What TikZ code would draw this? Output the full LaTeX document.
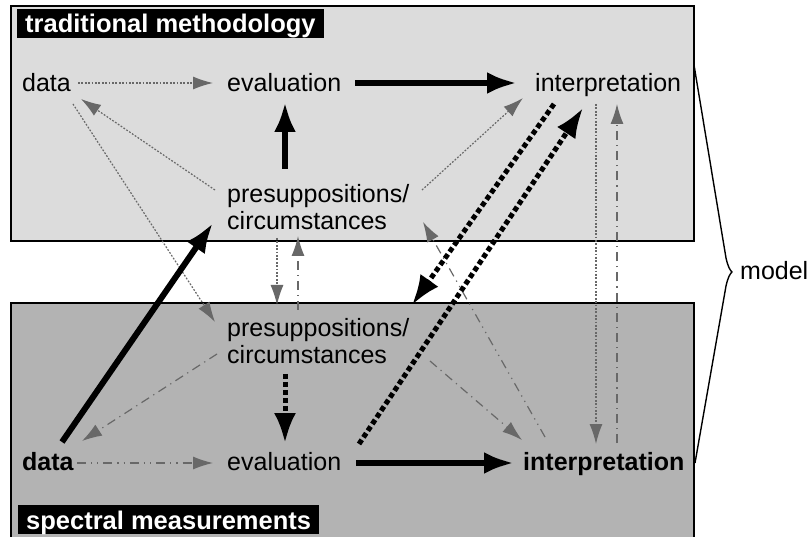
\documentclass[tikz,border=0pt]{standalone}
\usepackage{fontspec}
\setmainfont{Liberation Sans}
\usetikzlibrary{arrows.meta}
\definecolor{topfill}{HTML}{DCDCDC}
\definecolor{botfill}{HTML}{B3B3B3}
\definecolor{arrgray}{HTML}{686868}
\tikzset{
  lbl/.style={inner sep=0pt, anchor=base west},
  plbl/.style={inner sep=0pt, anchor=north west, align=left},
  ttl/.style={fill=black, text=white, font=\fontsize{25.5}{27}\selectfont\bfseries,
    inner xsep=8pt, inner ysep=1pt, text height=23pt, text depth=4pt, anchor=base west},
  grayline/.style={draw=arrgray, line width=1.2pt, -{Latex[length=20pt,width=13pt]}},
  gdot/.style={grayline, dash pattern=on 1.8pt off 1.6pt},
  gdd/.style={grayline, dash pattern=on 9pt off 5pt on 1.2pt off 5pt},
  gddd/.style={grayline, dash pattern=on 9pt off 5pt on 1.2pt off 5pt on 1.2pt off 5pt},
  thk/.style={line width=6pt, -{Latex[length=30pt,width=22pt]}},
  thkdot/.style={line width=5pt, dash pattern=on 5pt off 3pt, -{Latex[length=30pt,width=22pt]}},
  boxframe/.style={line width=2pt},
}
\begin{document}
\begin{tikzpicture}[x=1pt, y=-1pt, font=\fontsize{25}{27}\selectfont]
\useasboundingbox (0,0) rectangle (809,537);
\clip (0,0) rectangle (809,537);
% boxes
\filldraw[boxframe, fill=topfill] (11,6) rectangle (694,241);
\filldraw[boxframe, fill=botfill] (11,303) rectangle (694,560);
% titles
\node[ttl] (ttop) at (17,33) {traditional methodology};
\node[ttl] (tbot) at (18,529) {spectral measurements};
% labels
\node[lbl] (tdata) at (22,92) {data};
\node[lbl] (teval) at (227,92) {evaluation};
\node[lbl] (tinterp) at (535,92) {interpretation};
\node[plbl] (tpre) at (227,184) {presuppositions/\\circumstances};
\node[plbl] (bpre) at (227,318) {presuppositions/\\circumstances};
\node[lbl, font=\fontsize{25}{27}\selectfont\bfseries] (bdata) at (22,470) {data};
\node[lbl] (beval) at (227,470) {evaluation};
\node[lbl, font=\fontsize{25}{27}\selectfont\bfseries] (binterp) at (523,470) {interpretation};
\node[lbl] (model) at (740,280) {model};
% gray connectors
\draw[gdot] ([shift={(56,-9)}]tdata.base west) -- ([shift={(-14,-9)}]teval.base west);
\draw[gdot] ([shift={(-12,6)}]tpre.north west) -- ([shift={(59,7)}]tdata.base west);
\draw[gdot] ([shift={(51,12)}]tdata.base west) -- ([shift={(-12,4)}]bpre.north west);
\draw[gdot] ([shift={(195,6)}]tpre.north west) -- ([shift={(-12,6)}]tinterp.base west);
\draw[gdot] ([shift={(50,54)}]tpre.north west) -- ([shift={(50,-13)}]bpre.north west);
\draw[gdd] ([shift={(71,-8)}]bpre.north west) -- ([shift={(71,52)}]tpre.north west);
\draw[gdd] ([shift={(-10,36)}]bpre.north west) -- ([shift={(60,-29)}]bdata.base west);
\draw[gddd] ([shift={(55,-7)}]bdata.base west) -- ([shift={(-14,-7)}]beval.base west);
\draw[gdd] ([shift={(203,43)}]bpre.north west) -- ([shift={(-1,-30)}]binterp.base west);
\draw[gddd] ([shift={(22,-33)}]binterp.base west) -- ([shift={(196,38)}]tpre.north west);
\draw[gdot] ([shift={(61,12)}]tinterp.base west) -- ([shift={(73,-26)}]binterp.base west);
\draw[gdd] ([shift={(94,-27)}]binterp.base west) -- ([shift={(82,12)}]tinterp.base west);
% thick connectors
\draw[thk] ([shift={(58,-15)}]tpre.north west) -- ([shift={(58,10)}]teval.base west);
\draw[thk] ([shift={(128,-9)}]teval.base west) -- ([shift={(-18,-9)}]tinterp.base west);
\draw[thk] ([shift={(40,-28)}]bdata.base west) -- ([shift={(-14,39)}]tpre.north west);
\draw[thkdot] ([shift={(19,12)}]tinterp.base west) -- ([shift={(185,-13)}]bpre.north west);
\draw[thkdot] ([shift={(132,-26)}]beval.base west) -- ([shift={(48,16)}]tinterp.base west);
\draw[thkdot] ([shift={(58,56)}]bpre.north west) -- ([shift={(58,-27)}]beval.base west);
\draw[thk] ([shift={(129,-7)}]beval.base west) -- ([shift={(-9,-7)}]binterp.base west);
% brace
\coordinate (bt) at (694,65);
\coordinate (bb) at (695,463);
\draw[line width=1.4pt, line join=round] (bt) -- (726,258) .. controls (728,267) and (730,270) .. (732,272)
  .. controls (730,274) and (728,277) .. (726,286) -- (bb);
\end{tikzpicture}
\end{document}
